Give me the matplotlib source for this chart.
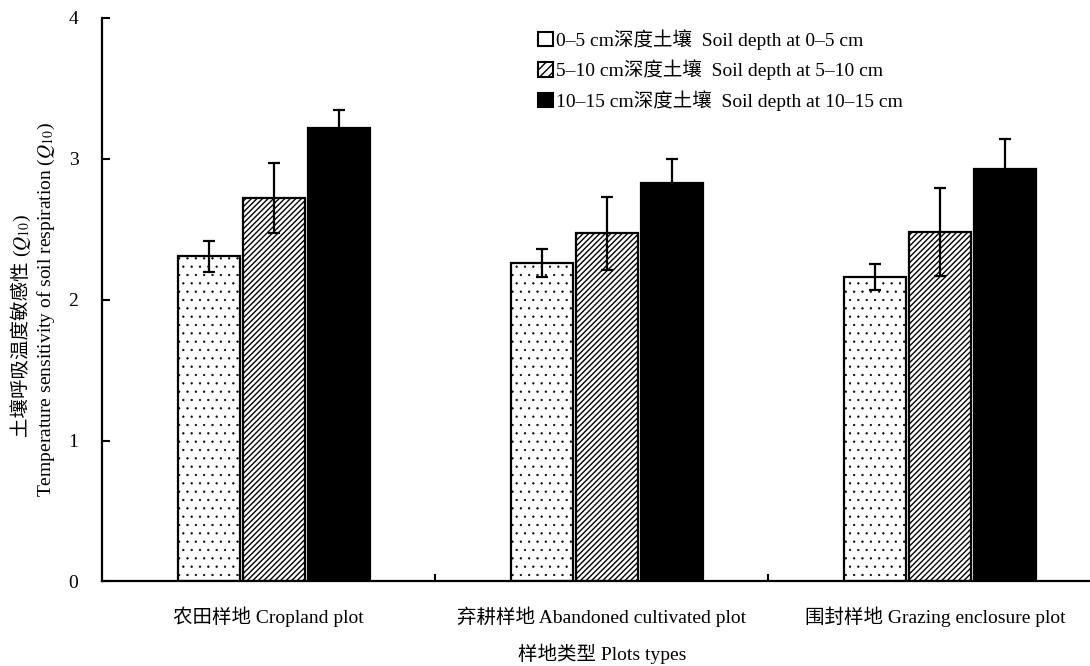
import numpy as np
import matplotlib.pyplot as plt
from matplotlib.patches import Patch

plt.rcParams['font.family'] = ['Liberation Serif', 'Noto Sans CJK SC']
plt.rcParams['mathtext.fontset'] = 'stix'
plt.rcParams['hatch.linewidth'] = 1.0

# Q10 by plot type and soil depth
plots = ['农田样地 Cropland plot', '弃耕样地 Abandoned cultivated plot', '围封样地 Grazing enclosure plot']
depths = ['0–5 cm深度土壤  Soil depth at 0–5 cm',
          '5–10 cm深度土壤  Soil depth at 5–10 cm',
          '10–15 cm深度土壤  Soil depth at 10–15 cm']
q10_0_5 = [2.31, 2.26, 2.16]
q10_5_10 = [2.72, 2.47, 2.48]
q10_10_15 = [3.22, 2.83, 2.93]
err_0_5 = [0.11, 0.10, 0.09]
err_5_10 = [0.25, 0.26, 0.31]
err_10_15 = [0.13, 0.17, 0.21]

values = [q10_0_5, q10_5_10, q10_10_15]
errors = [err_0_5, err_5_10, err_10_15]
fills = ['white', 'white', 'black']
hatches = ['..', '//////', None]
hatch_lw = [0.4, 1.0, 1.0]

fig = plt.figure(figsize=(10.9, 6.66), dpi=100)
ax = fig.add_axes([0.0936, 0.127, 0.917, 0.846])

x = np.arange(len(plots))
w = 0.186
step = 0.195
for k in range(3):
    pos = x + 0.016 + (k - 1) * step
    bars = ax.bar(pos, values[k], width=w, color=fills[k], edgecolor='black',
                  hatch=hatches[k], linewidth=1.6, zorder=2)
    for b in bars:
        try:
            b.set_hatch_linewidth(hatch_lw[k])
        except AttributeError:
            pass
    ax.errorbar(pos, values[k], yerr=errors[k], fmt='none', ecolor='black',
                elinewidth=1.6, capsize=4.5, capthick=1.6, zorder=3)

ax.set_xlim(-0.5, 2.5)
ax.set_ylim(0, 4)
ax.set_yticks([0, 1, 2, 3, 4])
ax.set_xticks(x)
ax.set_xticklabels(plots, fontsize=14)
ax.set_xticks([0.5, 1.5], minor=True)
ax.tick_params(axis='x', which='major', length=0, pad=18)
ax.tick_params(axis='x', which='minor', direction='in', length=5, width=1.5)
ax.tick_params(axis='y', direction='in', length=6, width=1.5, labelsize=14, pad=17)
for s in ['top', 'right']:
    ax.spines[s].set_visible(False)
for s in ['left', 'bottom']:
    ax.spines[s].set_linewidth(1.6)

ax.set_xlabel('样地类型 Plots types', fontsize=14, labelpad=12)

# two-line y label; the Chinese line is split so CJK text and math render in their own fonts
t1 = fig.text(22 / 1090, (666 - 437) / 666, '土壤呼吸温度敏感性 ', rotation=90,
              ha='center', va='bottom', fontsize=14)
ax.annotate('($\\mathit{Q}_{10}$)', xy=(0.5, 1.0), xycoords=t1, rotation=90,
            ha='center', va='bottom', fontsize=14)
fig.text(46 / 1090, (666 - 310) / 666,
         'Temperature sensitivity of soil respiration ($\\mathit{Q}_{10}$)',
         rotation=90, ha='center', va='center', fontsize=14)

handles = [Patch(facecolor=fills[k], edgecolor='black', hatch=hatches[k], linewidth=1.5)
           for k in range(3)]
handles[0].set_hatch(None)
handles[1].set_hatch('////')
fig.legend(handles, depths, loc='upper left', bbox_to_anchor=(538 / 1090, (666 - 29) / 666),
           frameon=False, fontsize=14, handlelength=0.75, handleheight=0.75,
           handletextpad=0.15, labelspacing=0.5, borderpad=0, borderaxespad=0)

fig.savefig('out.png', dpi=100)
